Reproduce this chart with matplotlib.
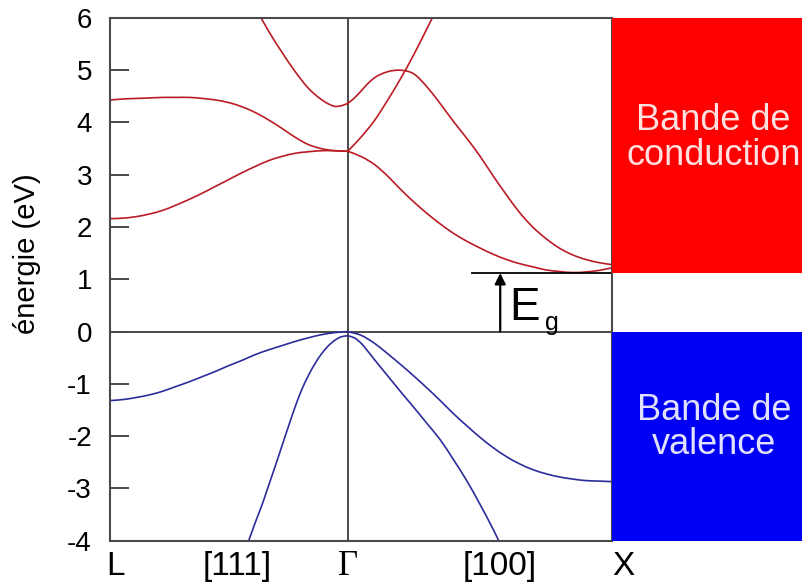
import matplotlib
matplotlib.use("Agg")
import matplotlib.pyplot as plt
from matplotlib.patches import Rectangle, PathPatch
from matplotlib.path import Path

plt.rcParams['font.family'] = ['Liberation Sans', 'DejaVu Sans']

# ---------------- data ----------------
# wave-vector positions (L = -0.9, Gamma = 0, X = 1.0)
k_left = [-0.9, -0.85, -0.8, -0.75, -0.7, -0.65, -0.6, -0.55, -0.5, -0.45,
          -0.4, -0.35, -0.3, -0.25, -0.2, -0.15, -0.1, -0.05, 0.0]
k_right = [0.0, 0.05, 0.1, 0.15, 0.2, 0.25, 0.3, 0.35, 0.4, 0.45, 0.5,
           0.55, 0.6, 0.65, 0.7, 0.75, 0.8, 0.85, 0.9, 0.95, 1.0]

# conduction bands (eV)
cond1_left = [2.16, 2.17, 2.20, 2.25, 2.32, 2.42, 2.53, 2.65, 2.78, 2.91,
              3.04, 3.16, 3.27, 3.35, 3.41, 3.44, 3.46, 3.46, 3.45]
cond2_left = [4.43, 4.45, 4.46, 4.47, 4.48, 4.48, 4.48, 4.46, 4.43, 4.38,
              4.30, 4.19, 4.05, 3.89, 3.72, 3.58, 3.50, 3.46, 3.45]
k_cond3 = [-0.35, -0.3, -0.25, -0.2, -0.15, -0.1, -0.075, -0.05, -0.025, 0.0,
           0.025, 0.05, 0.075, 0.1, 0.15, 0.2, 0.25, 0.3, 0.35, 0.4, 0.45,
           0.5, 0.55, 0.6, 0.65, 0.7, 0.75, 0.8, 0.85, 0.9, 0.95, 1.0]
cond3 = [6.20, 5.75, 5.35, 4.98, 4.66, 4.44, 4.36, 4.31, 4.32, 4.37,
         4.47, 4.60, 4.74, 4.85, 4.97, 5.00, 4.93, 4.68, 4.36, 4.02, 3.70,
         3.36, 2.98, 2.62, 2.28, 2.00, 1.78, 1.60, 1.47, 1.38, 1.32, 1.28]
k_cond4 = [0.0, 0.05, 0.1, 0.15, 0.2, 0.25, 0.3, 0.35]
cond4 = [3.45, 3.72, 4.03, 4.42, 4.84, 5.30, 5.80, 6.30]
cond5_right = [3.45, 3.35, 3.20, 2.98, 2.72, 2.48, 2.26, 2.06, 1.88, 1.73, 1.60,
               1.48, 1.38, 1.30, 1.24, 1.18, 1.15, 1.13, 1.14, 1.17, 1.22]

# valence bands (eV)
val1_left = [-1.32, -1.30, -1.26, -1.21, -1.14, -1.05, -0.96, -0.86, -0.76, -0.65,
             -0.55, -0.44, -0.35, -0.27, -0.19, -0.12, -0.06, -0.02, 0.0]
k_val2_left = [-0.4, -0.375, -0.35, -0.325, -0.3, -0.275, -0.25, -0.225, -0.2,
               -0.175, -0.15, -0.125, -0.1, -0.075, -0.05, -0.025, 0.0]
val2_left = [-4.35, -4.00, -3.65, -3.32, -2.95, -2.58, -2.20, -1.82, -1.45,
             -1.12, -0.85, -0.62, -0.43, -0.28, -0.17, -0.10, -0.08]
val1_right = [0.0, -0.07, -0.22, -0.42, -0.63, -0.85, -1.08, -1.32, -1.57, -1.80,
              -2.02, -2.22, -2.39, -2.53, -2.64, -2.72, -2.78, -2.82, -2.85, -2.86, -2.87]
k_val2_right = [0.0, 0.025, 0.05, 0.075, 0.1, 0.15, 0.2, 0.25, 0.3, 0.35, 0.4,
                0.45, 0.5, 0.55, 0.6]
val2_right = [-0.08, -0.12, -0.22, -0.37, -0.53, -0.84, -1.15, -1.45, -1.76,
              -2.07, -2.45, -2.85, -3.30, -3.78, -4.30]

gap_energy = 1.12
y_ticks = [-4, -3, -2, -1, 0, 1, 2, 3, 4, 5, 6]
k_points = [-0.88, -0.419, 0.0, 0.576, 1.042]
k_labels = ['L', '[111]', 'Γ', '[100]', 'X']


def smooth_band(ax, xs, ys, color, lw):
    """Draw a smooth curve through the read points as a cubic Bezier path."""
    n = len(xs)
    h = [xs[i + 1] - xs[i] for i in range(n - 1)]
    d = [(ys[i + 1] - ys[i]) / h[i] for i in range(n - 1)]
    m = [0.0] * n
    m[0] = d[0]
    m[-1] = d[-1]
    for i in range(1, n - 1):
        m[i] = (d[i - 1] * h[i] + d[i] * h[i - 1]) / (h[i - 1] + h[i])
    verts = [(xs[0], ys[0])]
    codes = [Path.MOVETO]
    for i in range(n - 1):
        verts += [(xs[i] + h[i] / 3, ys[i] + m[i] * h[i] / 3),
                  (xs[i + 1] - h[i] / 3, ys[i + 1] - m[i + 1] * h[i] / 3),
                  (xs[i + 1], ys[i + 1])]
        codes += [Path.CURVE4] * 3
    ax.add_patch(PathPatch(Path(verts, codes), facecolor='none',
                           edgecolor=color, lw=lw, zorder=2))


# ---------------- figure ----------------
fig = plt.figure(figsize=(8.03, 5.83), dpi=100)
ax = fig.add_axes([0.137, 0.0726, 0.6251, 0.8966])
ax.set_xlim(-0.9, 1.0)
ax.set_ylim(-4, 6)

red_line = '#bb1c24'
blue_line = '#2c2c9c'
lw = 1.2

smooth_band(ax, k_left, cond1_left, red_line, lw)
smooth_band(ax, k_left, cond2_left, red_line, lw)
smooth_band(ax, k_cond3, cond3, red_line, lw)
smooth_band(ax, k_cond4, cond4, red_line, lw)
smooth_band(ax, k_right, cond5_right, red_line, lw)

smooth_band(ax, k_left, val1_left, blue_line, lw)
smooth_band(ax, k_val2_left, val2_left, blue_line, lw)
smooth_band(ax, k_right, val1_right, blue_line, lw)
smooth_band(ax, k_val2_right, val2_right, blue_line, lw)

frame_c = '#4a4a4a'
ax.axhline(0, color=frame_c, lw=1.4, zorder=1)
ax.axvline(0, color=frame_c, lw=1.4, zorder=1)

# band-gap marker
ax.plot([0.47, 1.0], [gap_energy, gap_energy], color='black', lw=1.3)
ax.annotate('', xy=(0.577, gap_energy), xytext=(0.577, 0),
            arrowprops=dict(arrowstyle='-|>', color='black', lw=1.6,
                            mutation_scale=16, shrinkA=0, shrinkB=0))
ax.text(0.612, 0.22, 'E', fontsize=33, ha='left', va='baseline')
ax.text(0.747, 0.03, 'g', fontsize=18, ha='left', va='baseline')

# band boxes on the right
ax.add_patch(Rectangle((1.0, gap_energy), 0.8, 6 - gap_energy, facecolor='#ff0000',
                       edgecolor='none', clip_on=False, zorder=3))
ax.add_patch(Rectangle((1.0, -4), 0.8, 4, facecolor='#0000f5',
                       edgecolor='none', clip_on=False, zorder=3))
ax.text(1.385, 3.70, 'Bande de\nconduction', color='#ffe0e0', fontsize=26,
        ha='center', va='center', linespacing=0.98, clip_on=False, zorder=4)
ax.text(1.387, -1.84, 'Bande de\nvalence', color='#e0e0ff', fontsize=26,
        ha='center', va='center', linespacing=0.98, clip_on=False, zorder=4)

# axes styling
for s in ax.spines.values():
    s.set_color(frame_c)
    s.set_linewidth(1.5)
ax.set_yticks(y_ticks)
ax.set_yticklabels([str(v) for v in y_ticks])
ax.tick_params(axis='y', direction='in', length=14, width=1.4, color=frame_c,
               labelsize=20, pad=13, right=False)
ax.set_xticks([])

for kp, lab in zip(k_points, k_labels):
    if lab == 'Γ':
        ax.text(kp, -4.5, lab, fontsize=25, family='Liberation Serif',
                ha='center', va='center', clip_on=False)
    else:
        ax.text(kp, -4.5, lab, fontsize=24, ha='center', va='center',
                clip_on=False)

fig.text(0.0336, 0.5643, 'énergie (eV)', rotation=90, fontsize=21,
         ha='center', va='center')

fig.savefig('out.png', dpi=100)
